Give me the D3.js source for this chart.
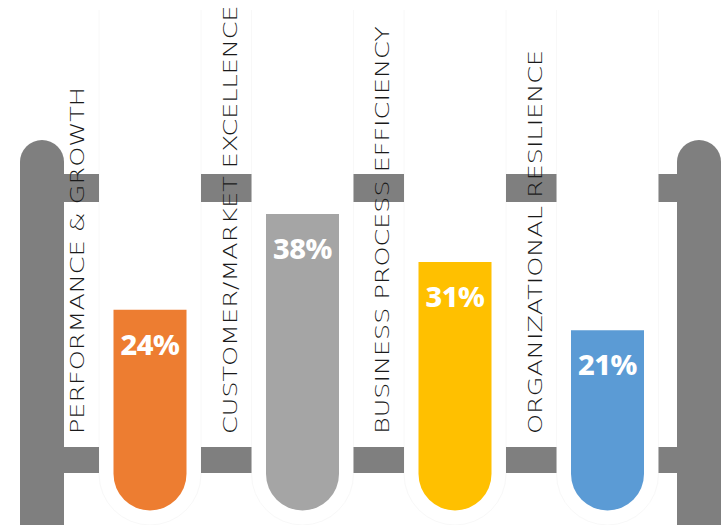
<!DOCTYPE html>
<html><head><meta charset="utf-8">
<script src="https://cdn.jsdelivr.net/npm/d3@7"></script>
<style>html,body{margin:0;padding:0;background:#fff;}svg{display:block;}</style>
</head><body>
<svg id="c" width="726" height="525"></svg>
<script>
const categories = ["PERFORMANCE & GROWTH", "CUSTOMER/MARKET EXCELLENCE", "BUSINESS PROCESS EFFICIENCY", "ORGANIZATIONAL RESILIENCE"];
const values = [24, 38, 31, 21];
const colors = ["#ED7D31", "#A5A5A5", "#FFC000", "#5B9BD5"];
const valueLabels = ["24%", "38%", "31%", "21%"];

const svg = d3.select("#c");
const W = 726, H = 525;
const x = d3.scalePoint().domain(categories).range([150, 607.5]);
const y = d3.scaleLinear().domain([0, 38]).range([474, 214]);
const tubeW = 73, r = tubeW / 2, glassHalf = 51;
const postL = [20, 64], postR = [677, 721], postTop = 140;
const rackGray = "#7F7F7F";

// glass outlines (very faint)
categories.forEach(c => {
  const cx = x(c), gr = glassHalf, cy = y(0);
  const p = d3.path();
  p.moveTo(cx - gr, 10);
  p.lineTo(cx - gr, cy);
  p.arc(cx, cy, gr, Math.PI, 0, true);
  p.lineTo(cx + gr, 10);
  svg.append("path").attr("d", p.toString()).attr("fill", "none")
    .attr("stroke", "#f8f8f8").attr("stroke-width", 1);
});

// posts
[postL, postR].forEach(([a, b]) => {
  const w = b - a, pr = w / 2;
  const p = d3.path();
  p.moveTo(a, H + 5);
  p.lineTo(a, postTop + pr);
  p.arc(a + pr, postTop + pr, pr, Math.PI, 0);
  p.lineTo(b, H + 5);
  p.closePath();
  svg.append("path").attr("d", p.toString()).attr("fill", rackGray);
});

// rack segments
const edges = [postL[1]];
categories.forEach(c => { edges.push(x(c) - glassHalf); edges.push(x(c) + glassHalf); });
edges.push(postR[0]);
const segs = [];
for (let i = 0; i < edges.length; i += 2) segs.push([edges[i], edges[i + 1]]);
[[174, 202], [447, 473]].forEach(([t, b]) => {
  svg.append("g").selectAll("rect").data(segs).join("rect")
    .attr("x", d => d[0]).attr("width", d => d[1] - d[0])
    .attr("y", t).attr("height", b - t).attr("fill", rackGray);
});

// tubes
categories.forEach((c, i) => {
  const cx = x(c), top = y(values[i]), cy = y(0);
  const p = d3.path();
  p.moveTo(cx - r, top);
  p.lineTo(cx - r, cy);
  p.arc(cx, cy, r, Math.PI, 0, true);
  p.lineTo(cx + r, top);
  p.closePath();
  svg.append("path").attr("d", p.toString()).attr("fill", colors[i]);
  svg.append("text").attr("x", cx).attr("y", top + 45)
    .attr("text-anchor", "middle").attr("fill", "#fff")
    .attr("font-family", "'Noto Sans', sans-serif").attr("font-weight", 800)
    .attr("font-size", 29).attr("letter-spacing", -0.5).text(valueLabels[i]);
});

// category labels
categories.forEach((c, i) => {
  const lx = x(c) - 66, ly = 434;
  svg.append("text")
    .attr("transform", `translate(${lx},${ly}) rotate(-90) scale(1.34,1)`)
    .attr("font-family", "'DejaVu Sans', sans-serif").attr("font-weight", 200)
    .attr("font-size", 19).attr("fill", "#1a1a1a").text(c);
});
</script>
</body></html>
